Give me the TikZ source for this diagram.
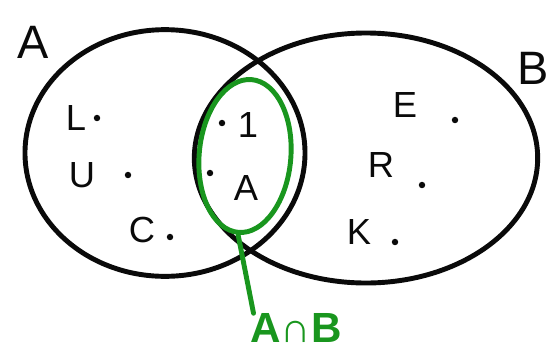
\documentclass[tikz,border=0pt]{standalone}
\usepackage{fontspec}
\setmainfont{Liberation Sans}
\usetikzlibrary{shapes.geometric, positioning}
\definecolor{InkBlack}  {RGB}{ 10,  10,  10}
\definecolor{InkGreen}  {RGB}{ 25, 150,  30}
\tikzset{
  % Set outlines
  setring/.style={
    ellipse, draw=InkBlack, line width=4.2pt, inner sep=0pt
  },
  % Intersection outline
  lensring/.style={
    ellipse, draw=InkGreen, line width=4.2pt, inner sep=0pt
  },
  % Set names
  setname/.style={
    text=InkBlack, font=\fontsize{40}{44}\selectfont, inner sep=0pt
  },
  % Elements
  elem/.style={
    text=InkBlack, font=\fontsize{31}{35}\selectfont, inner sep=0pt
  },
  % Element dots
  elemdot/.style={
    circle, fill=InkBlack, minimum size=5.5pt, inner sep=0pt
  },
  % Label of the intersection
  lenslabel/.style={
    text=InkGreen, font=\fontsize{36}{40}\selectfont\bfseries, inner sep=0pt
  },
  % Pointer line
  pointer/.style={
    line width=4.2pt, color=InkGreen, line cap=round
  }
}
\begin{document}
\begin{tikzpicture}[x=0.03cm, y=-0.03cm]
  \useasboundingbox (0,0) rectangle (558,354);

  % ── Sets ──────────────────────────────────────────────────────────────────
  \node[setring, minimum width=8.4cm, minimum height=7.4cm]  (setA) at (165,153) {};
  \node[setring, minimum width=10.3cm, minimum height=7.5cm] (setB) at (366,158) {};
  \node[lensring, minimum width=2.75cm, minimum height=4.6cm, rotate=-5] (both) at (245,156) {};

  % ── Set names ─────────────────────────────────────────────────────────────
  \node[setname] (nameA) at (33,42) {A};
  \node[setname] (nameB) at (533,68) {B};

  % ── Elements of A only ────────────────────────────────────────────────────
  \node[elem] (eL) at (76,118) {L};
  \node[elemdot] (dL) at (97,118) {};
  \node[elem] (eU) at (82,175) {U};
  \node[elemdot] (dU) at (128,175) {};
  \node[elem] (eC) at (142,230) {C};
  \node[elemdot] (dC) at (170,237) {};

  % ── Elements of both ──────────────────────────────────────────────────────
  \node[elemdot] (dI) at (222,123) {};
  \node[elem] (eI) at (248,125) {1};
  \node[elemdot] (dA) at (210,173) {};
  \node[elem] (eA) at (246,188) {A};

  % ── Elements of B only ────────────────────────────────────────────────────
  \node[elem] (eE) at (405,105) {E};
  \node[elemdot] (dE) at (455,120) {};
  \node[elem] (eR) at (381,165) {R};
  \node[elemdot] (dR) at (422,185) {};
  \node[elem] (eK) at (359,232) {K};
  \node[elemdot] (dK) at (395,242) {};

  % ── Intersection label ────────────────────────────────────────────────────
  \node[lenslabel, anchor=west] (capAB) at (250,328) {A∩B};
  \draw[pointer] (both.south) -- ([xshift=3pt]capAB.north west);

\end{tikzpicture}
\end{document}
